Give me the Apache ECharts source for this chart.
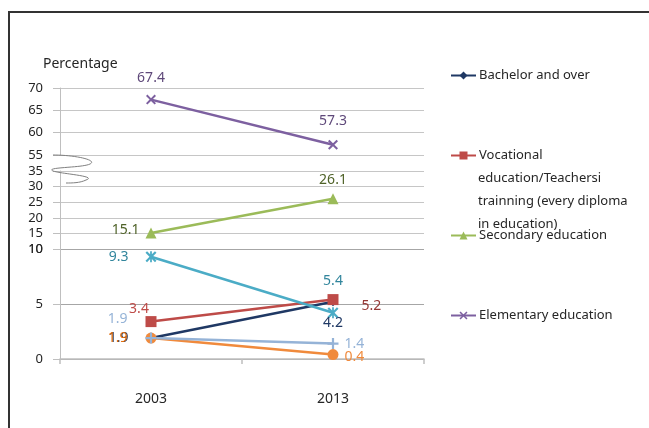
<!DOCTYPE html>
<html>
<head>
<meta charset="utf-8">
<script src="https://cdn.jsdelivr.net/npm/echarts@6/dist/echarts.min.js"></script>
<style>
html,body{margin:0;padding:0;background:#fff;}
#c{width:649px;height:428px;}
</style>
</head>
<body>
<div id="c"></div>
<script>
// ---- data ----
const categories = ['2003', '2013'];
const bachelor = [1.9, 5.2];
const vocational = [3.4, 5.4];
const secondary = [15.1, 26.1];
const elementary = [67.4, 57.3];
const series5 = [9.3, 4.2];
const series6 = [1.9, 1.4];
const series7 = [1.9, 0.4];
const topTicks = [55, 60, 65, 70];
const midTicks = [10, 15, 20, 25, 30, 35];
const lowTicks = [0, 5, 10];
const vocationalMoreLines = 'education/Teachersi\ntrainning (every diploma\nin education)';

const FONT = 'Noto Sans';
const X_SYM = 'path://M1.4,0 L5,3.6 L8.6,0 L10,1.4 L6.4,5 L10,8.6 L8.6,10 L5,6.4 L1.4,10 L0,8.6 L3.6,5 L0,1.4 Z';
const AST_SYM = 'path://M1.4,0 L4.2,2.8 L4.2,0 L5.8,0 L5.8,2.8 L8.6,0 L10,1.4 L6.4,5 L10,8.6 L8.6,10 L5.8,7.2 L5.8,10 L4.2,10 L4.2,7.2 L1.4,10 L0,8.6 L3.6,5 L0,1.4 Z';
const PLUS_SYM = 'path://M4,0 H6 V4 H10 V6 H6 V10 H4 V6 H0 V4 H4 Z';

function mk(name, values, axis, color, symbol, size, labels) {
  return {
    name: name, type: 'line', xAxisIndex: axis, yAxisIndex: axis,
    data: values.map((v, i) => ({ value: v, label: Object.assign({ show: true }, labels[i]) })),
    symbol: symbol, symbolSize: size,
    lineStyle: { color: color, width: 2.5 },
    itemStyle: { color: color },
    label: { fontFamily: FONT, fontSize: 14 },
    emphasis: { disabled: true },
    animation: false
  };
}

const lbl = (pos, dist, color, offset) => ({ position: pos, distance: dist, color: color, offset: offset || [0, 0] });

const seriesList = [
  mk('Bachelor and over', bachelor, 2, '#1f3864', 'diamond', 9,
     [lbl('left', 18, '#1f3864'), lbl('right', 24, '#953735', [0, 4])]),
  mk('Vocational', vocational, 2, '#be4b48', 'rect', 11,
     [lbl('top', 0, '#be4b48', [-12, 0]), lbl('top', 6, '#31859c')]),
  mk('Secondary education', secondary, 1, '#9bbb59', 'triangle', 11,
     [lbl('left', 6, '#4f6228', [0, -3]), lbl('top', 6, '#4f6228')]),
  mk('Elementary education', elementary, 0, '#7d60a0', X_SYM, 10,
     [lbl('top', 10, '#5f497a'), lbl('top', 12, '#5f497a')]),
  mk('S5', series5, 2, '#4bacc6', AST_SYM, 11,
     [lbl('left', 17, '#31859c'), lbl('bottom', -2, '#1f3864')]),
  mk('S7', series7, 2, '#f08a3c', 'circle', 11,
     [lbl('left', 18, '#e36c09'), lbl('right', 6, '#f08a3c', [0, 2])]),
  mk('S6', series6, 2, '#95b3d7', PLUS_SYM, 11,
     [lbl('left', 18, '#95b3d7', [0, -19]), lbl('right', 6, '#95b3d7')])
];

const gridDefs = [
  { top: 88, height: 67, ticks: topTicks, split: '#c6c6c6' },
  { top: 171, height: 78, ticks: midTicks, split: '#c6c6c6' },
  { top: 249, height: 110, ticks: lowTicks, split: '#a6a6a6' }
];

const grids = gridDefs.map(g => ({ left: 60, width: 364, top: g.top, height: g.height, containLabel: false }));
const xAxes = gridDefs.map((g, i) => ({
  type: 'category', gridIndex: i, data: categories, show: i === 2,
  boundaryGap: true,
  axisLine: { lineStyle: { color: '#bfbfbf', width: 1.5 } },
  axisTick: { show: true, length: 5, lineStyle: { color: '#bfbfbf', width: 1.5 } },
  axisLabel: { fontFamily: FONT, fontSize: 14, color: '#262626', margin: 33 }
}));
const yAxes = gridDefs.map((g, i) => ({
  type: 'value', gridIndex: i, min: g.ticks[0], max: g.ticks[g.ticks.length - 1], interval: 5,
  axisLine: { show: true, lineStyle: { color: '#bfbfbf', width: 1 } },
  axisTick: { show: true, length: 7, lineStyle: { color: '#bfbfbf' } },
  splitLine: { show: true, lineStyle: { color: g.split, width: 1.2 } },
  axisLabel: { fontFamily: FONT, fontSize: 13, color: '#262626', margin: 17,
    showMinLabel: true, showMaxLabel: true }
}));

const legendBase = (name, top) => ({
  data: [name], left: 450, top: top, orient: 'vertical', padding: 0,
  itemWidth: 25, itemHeight: 10, itemGap: 0,
  textStyle: { fontFamily: FONT, fontSize: 13, color: '#262626', padding: [0, 0, 0, -2] },
  selectedMode: false
});

const bz = (x1, y1, c1x, c1y, c2x, c2y, x2, y2) => ({
  type: 'bezierCurve', z: 10,
  shape: { x1: x1, y1: y1, cpx1: c1x, cpy1: c1y, cpx2: c2x, cpy2: c2y, x2: x2, y2: y2 },
  style: { stroke: '#808080', lineWidth: 1, fill: null }
});

const option = {
  backgroundColor: '#fff',
  animation: false,
  grid: grids, xAxis: xAxes, yAxis: yAxes,
  legend: [
    legendBase('Bachelor and over', 69),
    legendBase('Vocational', 149),
    legendBase('Secondary education', 229),
    legendBase('Elementary education', 309)
  ],
  series: seriesList,
  graphic: [
    { type: 'polyline', z: 10, shape: { points: [[9, 428], [9, 12], [649, 12]] }, style: { stroke: '#333', lineWidth: 2, fill: null } },
    { type: 'text', x: 43, y: 57, z: 10, style: { text: 'Percentage', font: '14px "Noto Sans"', fill: '#262626' } },
    { type: 'text', x: 478, y: 167, z: 10, style: { text: vocationalMoreLines, font: '13px "Noto Sans"', lineHeight: 23, fill: '#262626' } },
    { type: 'rect', z: 9, shape: { x: 56, y: 156, width: 8, height: 14 }, style: { fill: '#fff' } },
    bz(53, 155, 75, 155, 98, 160, 90, 164),
    bz(90, 164, 82, 168, 44, 167, 53, 171),
    bz(53, 171, 62, 174, 98, 176, 86, 180),
    bz(86, 180, 80, 183, 72, 183, 66, 183)
  ]
};

const chart = echarts.init(document.getElementById('c'), null, { renderer: 'canvas' });
chart.setOption(option);
</script>
</body>
</html>
